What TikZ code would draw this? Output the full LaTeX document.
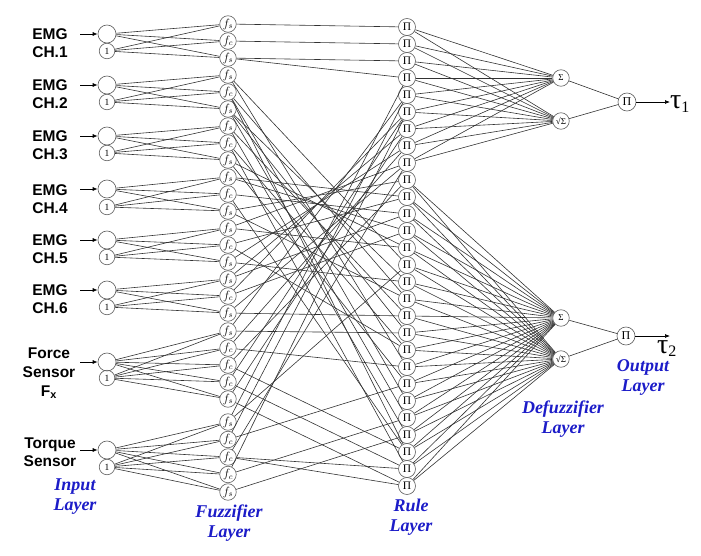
\documentclass[tikz,border=0pt]{standalone}
\usepackage{fontspec}
\setmainfont{Liberation Serif}
\setsansfont{Liberation Sans}
\usetikzlibrary{arrows.meta}

\definecolor{layerBlue}{RGB}{28,28,200}
\definecolor{wireColour}{RGB}{50,50,50}
\definecolor{ringColour}{RGB}{100,100,100}

\begin{document}
\begin{tikzpicture}[x=1pt, y=-1pt,
    unit/.style={circle, draw=ringColour, line width=0.65pt, inner sep=0pt, minimum size=16.5pt},
    innode/.style={unit, minimum size=18pt},
    onenode/.style={unit, minimum size=15.5pt, font=\fontsize{9.5}{9.5}\selectfont},
    fuzznode/.style={unit, font=\fontsize{11.5}{11.5}\selectfont},
    rulenode/.style={unit, minimum size=17pt, font=\fontsize{11.5}{11.5}\selectfont},
    defnode/.style={unit, font=\fontsize{9}{9}\selectfont},
    outnode/.style={unit, minimum size=18pt, font=\fontsize{12}{12}\selectfont},
    wire/.style={draw=wireColour, line width=0.6pt},
    inarrow/.style={-{Latex[length=5pt,width=4pt]}, line width=0.7pt},
    sensorlabel/.style={font=\sffamily\bfseries\fontsize{15.5}{18}\selectfont, inner sep=0pt},
    layerlabel/.style={font=\bfseries\itshape\fontsize{18}{20}\selectfont, text=layerBlue, align=center, inner sep=0pt},
    taulabel/.style={font=\fontsize{28}{28}\selectfont, inner sep=0pt}
]

    % Fix the page size
    \useasboundingbox (0,0) rectangle (701,555);

    % Input layer
    \foreach \n/\ya/\yb/\txt in {1/34/51/{EMG\\CH.1}, 2/85/102/{EMG\\CH.2},
        3/136/153/{EMG\\CH.3}, 4/189/207/{EMG\\CH.4}, 5/240/257/{EMG\\CH.5},
        6/290/307/{EMG\\CH.6}} {
        \node[innode] (in\n) at (107,\ya) {};
        \node[onenode] (one\n) at (107,\yb) {1};
        \node[sensorlabel, align=left] (lab\n) at (50,{(\ya+\yb)/2+1}) {\txt};
        \coordinate (src\n) at (80,\ya);
        \draw[inarrow] (src\n) -- (in\n);
    }
    \node[innode] (in7) at (107,362) {};
    \node[onenode] (one7) at (107,378) {1};
    \node[sensorlabel, align=center, font=\sffamily\bfseries\fontsize{15.5}{19}\selectfont] (lab7) at (49,373) {Force\\Sensor\\F\textsubscript{x}};
    \coordinate (src7) at (80,362);
    \draw[inarrow] (src7) -- (in7);
    \node[innode] (in8) at (107,450) {};
    \node[onenode] (one8) at (107,467) {1};
    \node[sensorlabel, align=center] (lab8) at (50,452) {Torque\\Sensor};
    \coordinate (src8) at (80,450);
    \draw[inarrow] (src8) -- (in8);

    % Fuzzifier layer
    \foreach \g in {0,...,5}
        \foreach \j/\s in {1/s,2/c,3/s} {
            \pgfmathtruncatemacro{\k}{3*\g+\j}
            \node[fuzznode] (f\k) at (228,{24+17*(\k-1)}) {$f_\s$};
        }
    \foreach \j/\s in {1/s,2/c,3/c,4/c,5/s} {
        \pgfmathtruncatemacro{\k}{18+\j}
        \node[fuzznode] (f\k) at (228,{314+17*\j}) {$f_\s$};
    }
    \foreach \j/\s in {1/s,2/c,3/c,4/c,5/s} {
        \pgfmathtruncatemacro{\k}{23+\j}
        \node[fuzznode] (f\k) at (228,{404.5+17.5*\j}) {$f_\s$};
    }

    % Rule layer
    \foreach \r in {1,...,28}
        \node[rulenode] (r\r) at (407,{27+17*(\r-1)}) {Π};

    % Defuzzifier and output layers
    \node[defnode] (sum1) at (561,78) {Σ};
    \node[defnode] (sq1) at (561,121) {√Σ};
    \node[defnode] (sum2) at (561,318) {Σ};
    \node[defnode] (sq2) at (561,359) {√Σ};
    \node[outnode] (out1) at (627,102) {Π};
    \node[outnode] (out2) at (626,336) {Π};
    \node[taulabel, anchor=west] (tau1) at (670,104) {τ\raisebox{-0.3ex}{\fontsize{16}{16}\selectfont 1}};
    \node[taulabel, anchor=north west] (tau2) at (657,340) {τ\raisebox{-0.3ex}{\fontsize{16}{16}\selectfont 2}};
    \coordinate (end2) at (670,336);
    \draw[inarrow] (out1) -- (out1 -| tau1.west);
    \draw[inarrow] (out2) -- (end2);

    % Input to fuzzifier links
    \foreach \n/\a/\b in {1/1/3, 2/4/6, 3/7/9, 4/10/12, 5/13/15, 6/16/18, 7/19/23, 8/24/28}
        \foreach \k in {\a,...,\b} {
            \draw[wire] (in\n) -- (f\k);
            \draw[wire] (one\n) -- (f\k);
        }

    % Fuzzifier to rule links
    \foreach \k/\r in {1/1, 2/2, 3/3, 3/4,
        4/15, 4/21, 5/17, 5/23, 5/26, 6/16, 6/19, 6/24, 7/18, 7/25, 8/20, 8/27, 9/14, 9/22,
        10/11, 10/13, 11/12, 11/26, 12/10, 12/17, 13/9, 13/14, 14/11, 14/20, 15/8, 15/16,
        16/12, 16/7, 17/13, 17/6, 18/9, 18/18,
        19/19, 19/5, 20/21, 20/8, 21/10, 21/26, 22/27, 22/6, 23/28, 23/7,
        24/4, 24/15, 25/5, 25/22, 26/27, 26/28, 26/9, 27/6, 27/24, 28/25}
        \draw[wire] (f\k) -- (r\r);

    % Rule to defuzzifier links
    \foreach \r in {1,...,9} {
        \draw[wire] (r\r) -- (sum1);
        \draw[wire] (r\r) -- (sq1);
    }
    \foreach \r in {10,...,28} {
        \draw[wire] (r\r) -- (sum2);
        \draw[wire] (r\r) -- (sq2);
    }
    \draw[wire] (sum1) -- (out1);
    \draw[wire] (sq1) -- (out1);
    \draw[wire] (sum2) -- (out2);
    \draw[wire] (sq2) -- (out2);

    % Layer names
    \node[layerlabel] (inLayer) at (75,497) {Input\\Layer};
    \node[layerlabel] (fuzzLayer) at (229,523) {Fuzzifier\\Layer};
    \node[layerlabel] (ruleLayer) at (411,517) {Rule\\Layer};
    \node[layerlabel] (defuzzLayer) at (563,419) {Defuzzifier\\Layer};
    \node[layerlabel] (outLayer) at (643,377) {Output\\Layer};

\end{tikzpicture}
\end{document}
